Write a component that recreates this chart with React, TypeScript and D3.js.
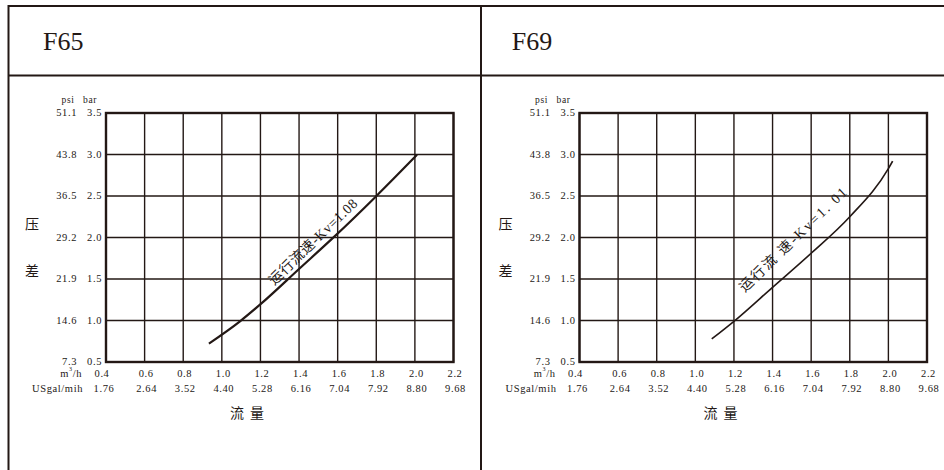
import React from "react";
import * as d3 from "d3";

const barTicks = [0.5, 1.0, 1.5, 2.0, 2.5, 3.0, 3.5];
const psiLabels = ["7.3", "14.6", "21.9", "29.2", "36.5", "43.8", "51.1"];
const flowTicks = [0.4, 0.6, 0.8, 1.0, 1.2, 1.4, 1.6, 1.8, 2.0, 2.2];
const usgalLabels = ["1.76", "2.64", "3.52", "4.40", "5.28", "6.16", "7.04", "7.92", "8.80", "9.68"];

const f65Flow = [0.933, 1.094, 1.202, 1.404, 1.577, 1.801, 2.011];
const f65Drop = [0.722, 0.99, 1.2, 1.63, 1.998, 2.501, 2.996];
const f69Flow = [1.085, 1.2, 1.4, 1.6, 1.8, 2.0, 2.022];
const f69Drop = [0.778, 0.99, 1.4, 1.81, 2.25, 2.83, 2.92];

const panels = [
  { title: "F65", label: "运行流速-Kv=1.08", flow: f65Flow, drop: f65Drop, labelAt: [1.474, 1.95], spacing: 0.6, width: 2.2 },
  { title: "F69", label: "运行流 速-Kv=1. 01", flow: f69Flow, drop: f69Drop, labelAt: [1.51, 1.98], spacing: 2, width: 1.6 },
];

const INK = "#231815";
const SERIF = "Liberation Serif, DejaVu Serif, Times New Roman, serif";
const CJK = "Noto Sans CJK SC, sans-serif";

function Panel({ p, dx }: { p: any; dx: number }) {
  const x = d3.scaleLinear().domain([0.4, 2.2]).range([106 + dx, 453.5 + dx]);
  const y = d3.scaleLinear().domain([0.5, 3.5]).range([362, 113]);
  const pts = p.flow.map((q: number, i: number) => [q, p.drop[i]] as [number, number]);
  const line = d3
    .line<[number, number]>()
    .x((d) => x(d[0]))
    .y((d) => y(d[1]))
    .curve(d3.curveMonotoneX);
  const lx = x(p.labelAt[0]);
  const ly = y(p.labelAt[1]);
  const tickStyle = { fontFamily: SERIF, fontSize: 10.5, fill: INK, letterSpacing: 0.6 } as any;
  return (
    <g>
      <text x={43 + dx - (dx ? 4.8 : 0)} y={50} style={{ fontFamily: SERIF, fontSize: 26, fill: INK }}>
        {p.title}
      </text>
      {flowTicks.map((t) => (
        <line key={"v" + t} x1={x(t)} x2={x(t)} y1={y(0.5)} y2={y(3.5)} stroke={INK} strokeWidth={1.4} />
      ))}
      {barTicks.map((t) => (
        <line key={"h" + t} x1={x(0.4)} x2={x(2.2)} y1={y(t)} y2={y(t)} stroke={INK} strokeWidth={1.4} />
      ))}
      <rect x={x(0.4)} y={y(3.5)} width={x(2.2) - x(0.4)} height={y(0.5) - y(3.5)} fill="none" stroke={INK} strokeWidth={2.4} />
      <text x={68 + dx} y={100} textAnchor="middle" dominantBaseline="central" style={{ ...tickStyle, fontSize: 9.5 }}>psi</text>
      <text x={90 + dx} y={100} textAnchor="middle" dominantBaseline="central" style={{ ...tickStyle, fontSize: 9.5 }}>bar</text>
      {barTicks.map((t, i) => (
        <g key={"yl" + t}>
          <text x={77 + dx} y={y(t) - 0.5} textAnchor="end" dominantBaseline="central" style={tickStyle}>
            {psiLabels[i]}
          </text>
          <text x={102 + dx} y={y(t) - 0.5} textAnchor="end" dominantBaseline="central" style={tickStyle}>
            {t.toFixed(1)}
          </text>
        </g>
      ))}
      <text x={82 + dx} y={373} textAnchor="end" dominantBaseline="central" style={tickStyle}>
        m<tspan dy={-4} style={{ fontSize: 6 }}>3</tspan>
        <tspan dy={4}>/h</tspan>
      </text>
      <text x={83 + dx} y={388} textAnchor="end" dominantBaseline="central" style={tickStyle}>
        USgal/mih
      </text>
      {flowTicks.map((t, i) => (
        <g key={"xl" + t}>
          <text x={x(t) + (i === 0 ? -4 : 1.5)} y={373} textAnchor="middle" dominantBaseline="central" style={tickStyle}>
            {t.toFixed(1)}
          </text>
          <text x={x(t) + (i === 0 ? -2 : 2)} y={388} textAnchor="middle" dominantBaseline="central" style={tickStyle}>
            {usgalLabels[i]}
          </text>
        </g>
      ))}
      <text x={250 + dx} y={412} textAnchor="middle" dominantBaseline="central" style={{ fontFamily: CJK, fontSize: 14, fill: INK, letterSpacing: 6 }}>
        流量
      </text>
      <text x={32 + dx} y={223} textAnchor="middle" dominantBaseline="central" style={{ fontFamily: CJK, fontSize: 14, fill: INK }}>压</text>
      <text x={32 + dx} y={270} textAnchor="middle" dominantBaseline="central" style={{ fontFamily: CJK, fontSize: 14, fill: INK }}>差</text>
      <path d={line(pts) || ""} fill="none" stroke={INK} strokeWidth={p.width} />
      <text
        x={lx}
        y={ly}
        transform={`rotate(-44 ${lx} ${ly})`}
        textAnchor="middle"
        dominantBaseline="central"
        style={{ fontFamily: SERIF + ", Noto Sans CJK SC", fontSize: 14, fill: INK, letterSpacing: p.spacing }}
      >
        {p.label}
      </text>
    </g>
  );
}

export default function App() {
  return (
    <svg width={944} height={470} style={{ position: "absolute", left: 0, top: 0, background: "#fff" }}>
      <rect x={0} y={0} width={944} height={470} fill="#fff" />
      <line x1={8} x2={944} y1={6} y2={6} stroke={INK} strokeWidth={2} />
      <line x1={8.5} x2={8.5} y1={5} y2={470} stroke={INK} strokeWidth={2} />
      <line x1={8} x2={944} y1={75.5} y2={75.5} stroke={INK} strokeWidth={2} />
      <line x1={481} x2={481} y1={5} y2={470} stroke={INK} strokeWidth={2} />
      {panels.map((p, i) => (
        <Panel key={p.title} p={p} dx={i * 473.5} />
      ))}
    </svg>
  );
}
